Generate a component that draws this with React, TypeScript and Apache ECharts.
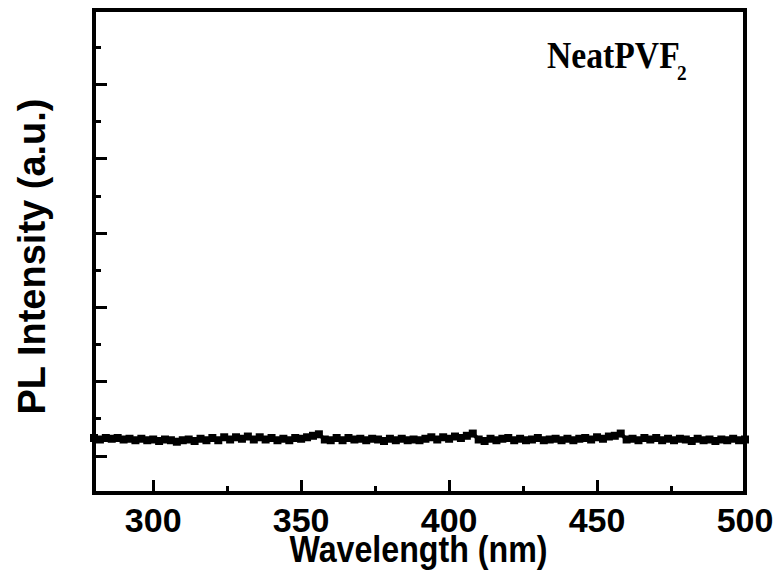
import React, { useEffect, useRef } from "react";
import * as echarts from "echarts";

// Wavelength (nm), 2 nm steps
const wavelengths: number[] = [
  280, 282, 284, 286, 288, 290, 292, 294, 296, 298,
  300, 302, 304, 306, 308, 310, 312, 314, 316, 318,
  320, 322, 324, 326, 328, 330, 332, 334, 336, 338,
  340, 342, 344, 346, 348, 350, 352, 354, 356, 358,
  360, 362, 364, 366, 368, 370, 372, 374, 376, 378,
  380, 382, 384, 386, 388, 390, 392, 394, 396, 398,
  400, 402, 404, 406, 408, 410, 412, 414, 416, 418,
  420, 422, 424, 426, 428, 430, 432, 434, 436, 438,
  440, 442, 444, 446, 448, 450, 452, 454, 456, 458,
  460, 462, 464, 466, 468, 470, 472, 474, 476, 478,
  480, 482, 484, 486, 488, 490, 492, 494, 496, 498,
  500,
];

// PL intensity (arbitrary units)
const intensity: number[] = [
  0.24, 0.22, 0.24, 0.23, 0.24, 0.22, 0.23, 0.21, 0.23, 0.21,
  0.22, 0.20, 0.22, 0.21, 0.19, 0.21, 0.22, 0.20, 0.23, 0.21,
  0.24, 0.21, 0.25, 0.22, 0.25, 0.23, 0.26, 0.22, 0.25, 0.22,
  0.24, 0.21, 0.23, 0.21, 0.24, 0.23, 0.25, 0.27, 0.29, 0.22,
  0.21, 0.24, 0.21, 0.24, 0.22, 0.23, 0.21, 0.23, 0.22, 0.20,
  0.23, 0.21, 0.23, 0.21, 0.22, 0.21, 0.23, 0.25, 0.22, 0.25,
  0.23, 0.26, 0.24, 0.27, 0.30, 0.22, 0.20, 0.23, 0.21, 0.23,
  0.24, 0.21, 0.23, 0.21, 0.22, 0.24, 0.21, 0.22, 0.23, 0.21,
  0.23, 0.21, 0.23, 0.24, 0.22, 0.25, 0.23, 0.26, 0.27, 0.30,
  0.22, 0.23, 0.21, 0.24, 0.22, 0.24, 0.21, 0.23, 0.21, 0.23,
  0.22, 0.20, 0.23, 0.21, 0.22, 0.20, 0.22, 0.21, 0.23, 0.21,
  0.22,
];

const xAxisTitle = "Wavelength (nm)";
const yAxisTitle = "PL Intensity (a.u.)";
const sampleLabel = "NeatPVF";
const sampleSub = "2";

const SANS = "'Liberation Sans', Arial, sans-serif";
const SERIF = "'Liberation Serif', 'Times New Roman', serif";

export default function App() {
  const ref = useRef<HTMLDivElement>(null);

  useEffect(() => {
    if (!ref.current) return;
    const chart = echarts.init(ref.current, null, { renderer: "svg" });
    const data = wavelengths.map((w, i) => [w, intensity[i]]);

    chart.setOption({
      animation: false,
      backgroundColor: "#ffffff",
      grid: {
        left: 94,
        right: 34,
        top: 10,
        bottom: 83,
        show: true,
        borderColor: "#000",
        borderWidth: 4,
        backgroundColor: "transparent",
        containLabel: false,
        outerBoundsMode: "none",
      },
      xAxis: {
        type: "value",
        min: 280,
        max: 500,
        splitNumber: 5,
        axisLine: { show: true, onZero: false, lineStyle: { color: "#000", width: 4 } },
        axisTick: { show: true, inside: true, length: 13, lineStyle: { color: "#000", width: 3 } },
        minorTick: { show: true, splitNumber: 2, length: 7, lineStyle: { color: "#000", width: 3 } },
        splitLine: { show: false },
        minorSplitLine: { show: false },
        axisLabel: {
          showMinLabel: false,
          margin: 10,
          color: "#000",
          fontFamily: SANS,
          fontWeight: "bold",
          fontSize: 34,
        },
      },
      yAxis: {
        type: "value",
        min: -0.5,
        max: 6,
        splitNumber: 6,
        axisLine: { show: true, onZero: false, lineStyle: { color: "#000", width: 4 } },
        axisTick: { show: true, inside: true, length: 13, lineStyle: { color: "#000", width: 3 } },
        minorTick: { show: true, splitNumber: 2, length: 7, lineStyle: { color: "#000", width: 3 } },
        splitLine: { show: false },
        minorSplitLine: { show: false },
        axisLabel: { show: false },
        name: yAxisTitle,
        nameLocation: "middle",
        nameGap: 43,
        nameTextStyle: {
          color: "#000",
          fontFamily: SANS,
          fontWeight: "bold",
          fontSize: 38,
          padding: [0, 10, 0, 0],
        },
      },
      graphic: [
        {
          type: "text",
          x: 418.5,
          y: 549.5,
          scaleX: 0.87,
          style: {
            text: xAxisTitle,
            fill: "#000",
            font: `bold 37px ${SANS}`,
            textAlign: "center",
            textVerticalAlign: "middle",
          },
        },
        {
          type: "text",
          x: 547,
          y: 55.5,
          scaleX: 0.91,
          style: {
            text: sampleLabel,
            fill: "#000",
            font: `bold 37px ${SERIF}`,
            textAlign: "left",
            textVerticalAlign: "middle",
          },
        },
        {
          type: "text",
          x: 677,
          y: 72.5,
          scaleX: 0.88,
          style: {
            text: sampleSub,
            fill: "#000",
            font: `bold 22px ${SERIF}`,
            textAlign: "left",
            textVerticalAlign: "middle",
          },
        },
      ],
      series: [
        {
          type: "line",
          data,
          symbol: "rect",
          symbolSize: 8,
          showAllSymbol: true,
          lineStyle: { color: "#000", width: 4 },
          itemStyle: { color: "#000" },
          clip: true,
        },
      ],
    });

    return () => chart.dispose();
  }, []);

  return (
    <div
      ref={ref}
      style={{ position: "fixed", left: 0, top: 0, width: 779, height: 576 }}
    />
  );
}
